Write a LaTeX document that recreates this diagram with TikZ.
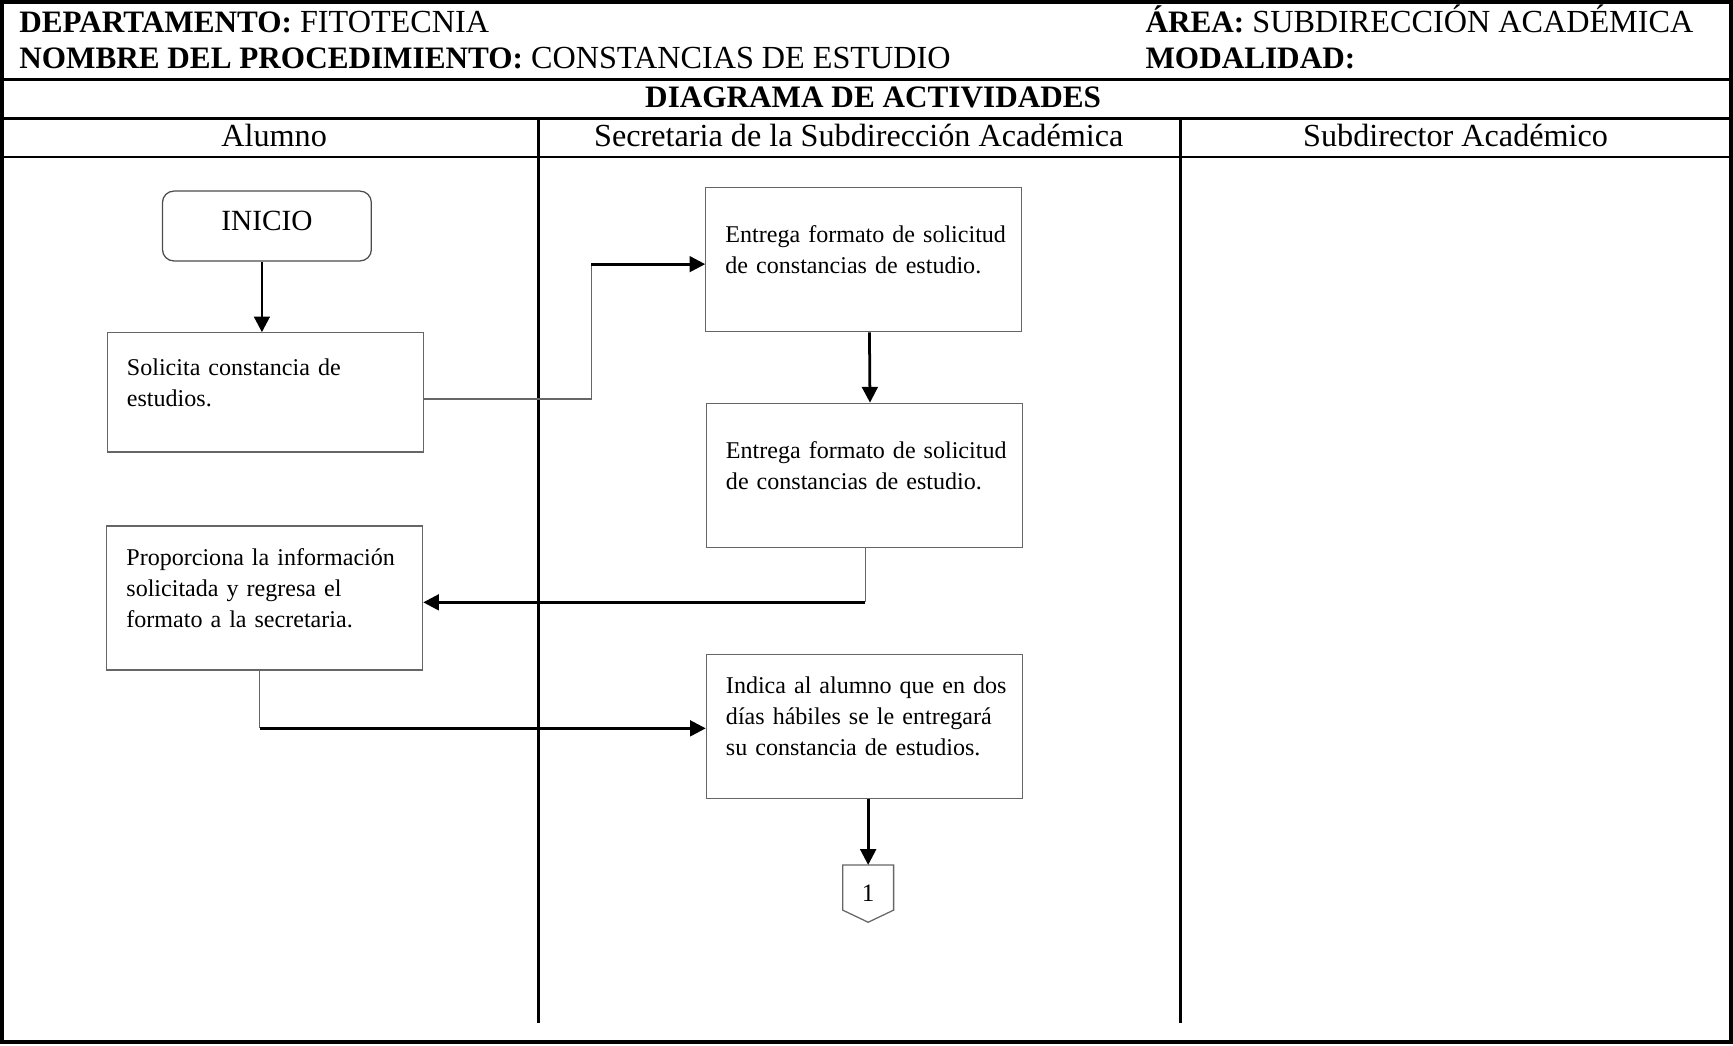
\documentclass[tikz,border=0pt]{standalone}
\usepackage{fontspec}
\setmainfont{Liberation Serif}
\usetikzlibrary{arrows.meta,positioning,calc}
\newcommand{\boxpad}{\rule[-8pt]{0pt}{8pt}\par}
\newcommand{\hb}[1]{{\fontsize{12.45}{14}\selectfont\bfseries #1}}

\begin{document}
\begin{tikzpicture}[x=0.0155cm, y=-0.0155cm, >={Triangle[length=2.2mm,width=2.2mm]},
   gline/.style={draw=black!60, line width=0.5pt},
   flecha/.style={->, line width=1.1pt}]
   \useasboundingbox (0,0) rectangle (1568,946);
   % marco y encabezado
   \draw[line width=1.4pt] (2,2) rectangle (1566,943);
   \begin{scope}[line width=1pt]
    \draw (2,72) -- (1566,72);
    \draw (2,107) -- (1566,107);
    \draw (2,142) -- (1566,142);
    \draw (487,107) -- (487,926);
    \draw (1068,107) -- (1068,926);
   \end{scope}
   \begin{scope}[every node/.style={inner sep=0pt, font=\fontsize{12.85}{14}\selectfont}]
    \node (dep) [anchor=base west] at (17,29) {\hb{DEPARTAMENTO:} FITOTECNIA};
    \node (nom) [anchor=base west] at (17,62) {\hb{NOMBRE DEL PROCEDIMIENTO:} CONSTANCIAS DE ESTUDIO};
    \node (are) [anchor=base west] at (1036,29) {\hb{ÁREA:} SUBDIRECCIÓN ACADÉMICA};
    \node (mod) [anchor=base west] at (1036,62) {\hb{MODALIDAD:}};
    \node (tit) [anchor=base] at (790,97) {\hb{DIAGRAMA DE ACTIVIDADES}};
    \node (lane1) [anchor=base] at (248,133) {Alumno};
    \node (lane2) [anchor=base] at (777,133) {Secretaria de la Subdirección Académica};
    \node (lane3) [anchor=base] at (1317,133) {Subdirector Académico};
   \end{scope}
   % actividades
   \node (ini) [draw=black!70, line width=0.5pt, rounded corners=0.16cm, minimum width=2.93cm,
      minimum height=0.98cm, font=\fontsize{11.7}{13}\selectfont] at (241.5,204.5) {INICIO\rule[-4pt]{0pt}{4pt}};
   \begin{scope}[every node/.style={draw=black!60, line width=0.5pt, align=left, text width=4.2cm,
      minimum width=4.43cm, minimum height=2.02cm, inner xsep=0.115cm, font=\fontsize{9.6}{12.3}\selectfont}]
    \node (sol) [minimum height=1.67cm] at (240,355) {\leftskip=0.16cm Solicita constancia de\\ estudios.\boxpad};
    \node (ent1) at (781.5,235) {\leftskip=0.16cm Entrega formato de solicitud\\ de constancias de estudio.\boxpad};
    \node (ent2) at (782,430) {\leftskip=0.16cm Entrega formato de solicitud\\ de constancias de estudio.\boxpad};
    \node (prop) at (239.5,541) {\leftskip=0.16cm Proporciona la información\\ solicitada y regresa el\\ formato a la secretaria.\boxpad};
    \node (ind) at (782,657) {\leftskip=0.16cm Indica al alumno que en dos\\ días hábiles se le entregará\\ su constancia de estudios.\boxpad};
   \end{scope}
   \node (con) [minimum width=0.7cm, minimum height=0.79cm, inner sep=0pt,
      font=\fontsize{10}{12}\selectfont] at (785.5,808.5) {1};
   \draw[gline] (con.north west) -- (con.north east) -- ([yshift=0.17cm]con.south east)
      -- (con.south) -- ([yshift=0.17cm]con.south west) -- cycle;
   % conectores
   \coordinate (k0) at (535,239);
   \coordinate (k1) at (535,361);
   \coordinate (k2) at (783,545);
   \coordinate (k3) at (235,659);
   \draw[flecha] ([xshift=-0.07cm]ini.south) -- ([xshift=-0.07cm]ini.south |- sol.north);
   \draw[gline] (sol.east |- k1) -- (k1) -- (k0);
   \draw[flecha] (k0) -- (k0 -| ent1.west);
   \draw[flecha] ([xshift=0.08cm]ent1.south) -- ([xshift=0.08cm]ent2.north);
   \draw[gline] (ent2.south -| k2) -- (k2);
   \draw[flecha] (k2) -- (k2 -| prop.east);
   \draw[gline] (prop.south -| k3) -- (k3);
   \draw[flecha] (k3) -- (k3 -| ind.west);
   \draw[flecha] (ind.south -| con) -- (con.north);
\end{tikzpicture}
\end{document}
